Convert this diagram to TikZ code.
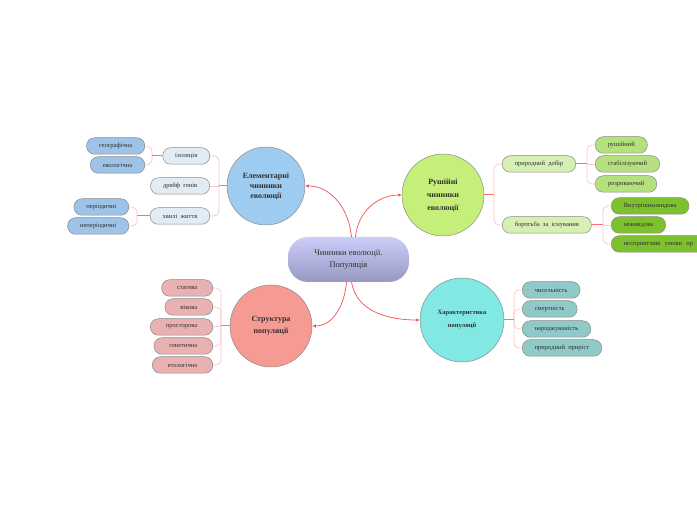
\documentclass[tikz,border=0pt]{standalone}
\usepackage{fontspec}
\setmainfont{Liberation Serif}
\usetikzlibrary{arrows.meta}
\definecolor{linkred}{HTML}{F25050}
\definecolor{twigpink}{HTML}{FFC4C4}
\definecolor{stemred}{HTML}{FF7070}
\definecolor{bordergray}{HTML}{8A8A8A}
\definecolor{txt}{HTML}{303030}
\begin{document}
\begin{tikzpicture}[x=1pt,y=1pt,
  hub/.style={circle, draw=bordergray, line width=0.5pt, align=center, inner sep=0pt, text=txt, font=\bfseries\fontsize{8}{12}\selectfont},
  leaf/.style={draw=bordergray, line width=0.5pt, rounded corners=8pt, minimum height=16.5pt, inner xsep=12.5pt, inner ysep=0pt, text=txt, font=\fontsize{6.5}{7}\selectfont},
  stem/.style={draw=stemred, line width=1pt},
  twig/.style={draw=twigpink, line width=0.7pt, rounded corners=5pt},
  link/.style={draw=linkred, line width=0.7pt, -{Latex[length=3.5pt,width=3.5pt]}}
]
\useasboundingbox (0,0) rectangle (697,520);
\fill[white] (0,0) rectangle (697,520);

% central
\node[rounded corners=20pt, minimum width=121pt, minimum height=45pt, top color={rgb,255:red,204;green,204;blue,248}, bottom color={rgb,255:red,152;green,152;blue,196}, align=center, text=txt, font=\fontsize{8.5}{12}\selectfont] (c) at (348.5,260.5) {Чинники еволюції.\\Популяція};

% hubs
\node[hub, fill={rgb,255:red,158;green,203;blue,240}, minimum size=78pt] (el) at (266,334) {Елементарні\\[-2pt]чинники\\[-2pt]еволюції};
\node[hub, fill={rgb,255:red,198;green,239;blue,122}, minimum size=82pt, font=\bfseries\fontsize{8}{13}\selectfont] (ru) at (443,325) {Рушійні\\чинники\\еволюції};
\node[hub, fill={rgb,255:red,246;green,155;blue,147}, minimum size=82pt] (st) at (271,194) {Структура\\популяції};
\node[hub, fill={rgb,255:red,130;green,232;blue,228}, minimum size=84pt, font=\bfseries\fontsize{6.5}{13}\selectfont] (ch) at (462,200) {Характеристика\\популяції};

% central links
\draw[link] (c.north) ++(3,0) coordinate (c1) (c1) to[out=95,in=0] (el.east);
\draw[link] (c.north) ++(7,0) coordinate (c2) (c2) to[out=85,in=180] (ru.west);
\draw[link] (c.south) ++(-2,0) coordinate (c3) (c3) to[out=-95,in=0] (st.east);
\draw[link] (c.south) ++(3,0) coordinate (c4) (c4) to[out=-80,in=180] (ch.west);

% Elementary branch
\tikzset{lb/.style={leaf, fill={rgb,255:red,225;green,236;blue,245}}, lb2/.style={leaf, fill={rgb,255:red,157;green,195;blue,232}}}
\node[lb, anchor=east] (iz) at (210,364) {ізоляція};
\node[lb, anchor=east] (dr) at (210,334) {дрейф\ \ генів};
\node[lb, anchor=east] (hv) at (210,304) {хвилі\ \ життя};
\node[lb2, anchor=east] (ge) at (145,374) {географічна};
\node[lb2, anchor=east] (ek) at (145,355) {екологічна};
\node[lb2, anchor=east] (pe) at (129,313) {періодичні};
\node[lb2, anchor=east] (np) at (129,294) {неперіодичні};
\coordinate (jel) at (219,334);
\draw[twig] (jel) |- (iz.east);
\draw[twig] (jel) |- (hv.east);
\draw[twig] (jel) -- (dr.east);
\draw[stem] (el.west) -- (jel);
\coordinate (jiz) at (152,364);
\draw[twig] (jiz) |- (ge.east);
\draw[twig] (jiz) |- (ek.east);
\draw[stem] (iz.west) -- (jiz);
\coordinate (jhv) at (137,304);
\draw[twig] (jhv) |- (pe.east);
\draw[twig] (jhv) |- (np.east);
\draw[stem] (hv.west) -- (jhv);

% Rushiyni branch
\tikzset{lg/.style={leaf, fill={rgb,255:red,214;green,239;blue,179}}, lg2/.style={leaf, fill={rgb,255:red,181;green,224;blue,126}}, lg3/.style={leaf, fill={rgb,255:red,125;green,193;blue,47}}}
\node[lg, anchor=west] (pd) at (502,356) {природний\ \ добір};
\node[lg, anchor=west] (bi) at (502,295) {боротьба\ \ за\ \ існування};
\node[lg2, anchor=west] (r1) at (595,375) {рушійний};
\node[lg2, anchor=west] (r2) at (595,356) {стабілізуючий};
\node[lg2, anchor=west] (r3) at (595,336) {розриваючий};
\node[lg3, anchor=west] (b1) at (611,314) {Внутрішньовидова};
\node[lg3, anchor=west] (b2) at (611,295) {міжвидова};
\node[lg3, anchor=west, text width=92pt, align=left] (b3) at (611,276) {несприятливі\ \ умови\ \ пр};
\coordinate (jru) at (494,325);
\draw[twig] (jru) |- (pd.west);
\draw[twig] (jru) |- (bi.west);
\draw[stem] (ru.east) -- (jru);
\coordinate (jpd) at (587,356);
\draw[twig] (jpd) |- (r1.west);
\draw[twig] (jpd) |- (r3.west);
\draw[twig] (jpd) -- (r2.west);
\draw[stem] (pd.east) -- (jpd);
\coordinate (jbi) at (603,295);
\draw[twig] (jbi) |- (b1.west);
\draw[twig] (jbi) |- (b3.west);
\draw[twig] (jbi) -- (b2.west);
\draw[stem] (bi.east) -- (jbi);

% Characteristic branch
\tikzset{lc/.style={leaf, fill={rgb,255:red,143;green,201;blue,200}}}
\node[lc, anchor=west] (k1) at (522,230) {чисельність};
\node[lc, anchor=west] (k2) at (522,211) {смертність};
\node[lc, anchor=west] (k3) at (522,191) {народжуваність};
\node[lc, anchor=west] (k4) at (522,172) {природний\ \ приріст};
\coordinate (jch) at (514,200);
\draw[twig] (jch) |- (k1.west);
\draw[twig] (jch) |- (k2.west);
\draw[twig] (jch) |- (k3.west);
\draw[twig] (jch) |- (k4.west);
\draw[stem] (ch.east) -- (jch);

% Structure branch
\tikzset{ls/.style={leaf, inner xsep=15.5pt, fill={rgb,255:red,233;green,177;blue,177}}}
\node[ls, anchor=east] (s1) at (213,232) {статева};
\node[ls, anchor=east] (s2) at (213,213) {вікова};
\node[ls, anchor=east] (s3) at (213,193) {просторова};
\node[ls, anchor=east] (s4) at (213,174) {генетична};
\node[ls, anchor=east] (s5) at (213,155) {етологічна};
\coordinate (jst) at (221,194);
\draw[twig] (jst) |- (s1.east);
\draw[twig] (jst) |- (s2.east);
\draw[twig] (jst) |- (s4.east);
\draw[twig] (jst) |- (s5.east);
\draw[twig] (jst) -- (s3.east);
\draw[stem] (st.west) -- (jst);
\end{tikzpicture}
\end{document}
